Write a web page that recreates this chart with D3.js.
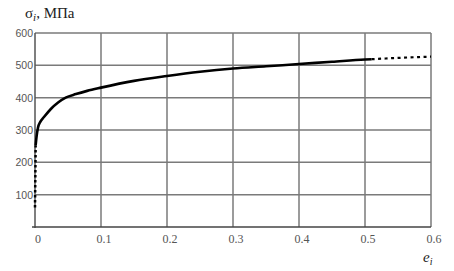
<!DOCTYPE html>
<html>
<head>
<meta charset="utf-8">
<script src="https://cdn.jsdelivr.net/npm/d3@7"></script>
<style>
  body { margin: 0; background: #fff; }
  svg { display: block; }
</style>
</head>
<body>
<div id="chart"></div>
<script>
// strain e_i vs stress sigma_i
const xTicks = [0, 0.1, 0.2, 0.3, 0.4, 0.5, 0.6]
const yTicks = [100, 200, 300, 400, 500, 600]

// lower dotted part (elastic, near e = 0)
const startE = [0, 0.001]
const startS = [60, 253]

// solid measured curve
const solidE = [0.001, 0.0025, 0.0045, 0.008, 0.0136, 0.024, 0.035, 0.0465, 0.062, 0.079, 0.1, 0.15, 0.2, 0.25, 0.3, 0.35, 0.4, 0.45, 0.5, 0.51]
const solidS = [253, 282, 307, 325, 340, 365, 385, 400, 411, 421, 431, 452, 467, 480, 490, 497, 504, 511, 518, 519]

// dotted extrapolation
const extE = [0.51, 0.55, 0.6]
const extS = [519, 523, 527]

const W = 454, H = 271
const x = d3.scaleLinear().domain([0, 0.6]).range([35, 431])
const y = d3.scaleLinear().domain([0, 600]).range([227, 33])

const svg = d3.select('#chart').append('svg')
  .attr('width', W)
  .attr('height', H)

const gridColor = '#7a7a7a'

// horizontal grid
svg.append('g')
  .selectAll('line')
  .data(yTicks)
  .join('line')
  .attr('x1', x(0)).attr('x2', x(0.6))
  .attr('y1', d => y(d)).attr('y2', d => y(d))
  .attr('stroke', gridColor)
  .attr('stroke-width', 1.5)

// vertical grid
svg.append('g')
  .selectAll('line')
  .data(xTicks.slice(1))
  .join('line')
  .attr('x1', d => x(d)).attr('x2', d => x(d))
  .attr('y1', y(600)).attr('y2', y(0))
  .attr('stroke', gridColor)
  .attr('stroke-width', 1.5)

// axes
svg.append('line')
  .attr('x1', x(0)).attr('x2', x(0))
  .attr('y1', y(600)).attr('y2', y(0) + 1)
  .attr('stroke', '#555').attr('stroke-width', 1.5)
svg.append('line')
  .attr('x1', x(0) - 3).attr('x2', x(0.6))
  .attr('y1', y(0)).attr('y2', y(0))
  .attr('stroke', '#444').attr('stroke-width', 1.5)

// y labels
svg.append('g')
  .selectAll('text')
  .data(yTicks)
  .join('text')
  .attr('x', x(0) - 2)
  .attr('y', d => y(d) + 4)
  .attr('text-anchor', 'end')
  .attr('font-family', 'Liberation Sans, Arial, sans-serif')
  .attr('font-size', 10.5)
  .attr('fill', '#555')
  .text(d => d)

// x labels
svg.append('g')
  .selectAll('text')
  .data(xTicks)
  .join('text')
  .attr('x', d => x(d) + 3)
  .attr('y', 243)
  .attr('text-anchor', 'middle')
  .attr('font-family', 'Liberation Serif, Times New Roman, serif')
  .attr('font-size', 12)
  .attr('fill', '#555')
  .text(d => d)

const toPts = (es, ss) => es.map((e, i) => [e, ss[i]])

const line = d3.line()
  .x(d => x(d[0]))
  .y(d => y(d[1]))

svg.append('path')
  .datum(toPts(startE, startS))
  .attr('d', line)
  .attr('fill', 'none')
  .attr('stroke', '#000')
  .attr('stroke-width', 2.5)
  .attr('stroke-dasharray', '2.5,2.5')

svg.append('path')
  .datum(toPts(solidE, solidS))
  .attr('d', line.curve(d3.curveMonotoneX))
  .attr('fill', 'none')
  .attr('stroke', '#000')
  .attr('stroke-width', 2.6)

svg.append('path')
  .datum(toPts(extE, extS))
  .attr('d', d3.line().x(d => x(d[0])).y(d => y(d[1])).curve(d3.curveMonotoneX))
  .attr('fill', 'none')
  .attr('stroke', '#000')
  .attr('stroke-width', 2.2)
  .attr('stroke-dasharray', '3,3.5')

// title
const title = svg.append('text')
  .attr('x', 25)
  .attr('y', 18)
  .attr('font-family', 'Liberation Serif, Times New Roman, serif')
  .attr('font-size', 15)
  .attr('fill', '#222')
title.append('tspan').text('σ')
title.append('tspan').attr('font-style', 'italic').attr('font-size', 11).attr('dy', 3).text('i')
title.append('tspan').attr('dy', -3).text(', МПа')

// x axis name
const xName = svg.append('text')
  .attr('x', 423)
  .attr('y', 262)
  .attr('font-family', 'Liberation Serif, Times New Roman, serif')
  .attr('font-style', 'italic')
  .attr('font-size', 15)
  .attr('fill', '#222')
xName.append('tspan').text('e')
xName.append('tspan').attr('font-size', 10).attr('dy', 3).text('i')
</script>
</body>
</html>
